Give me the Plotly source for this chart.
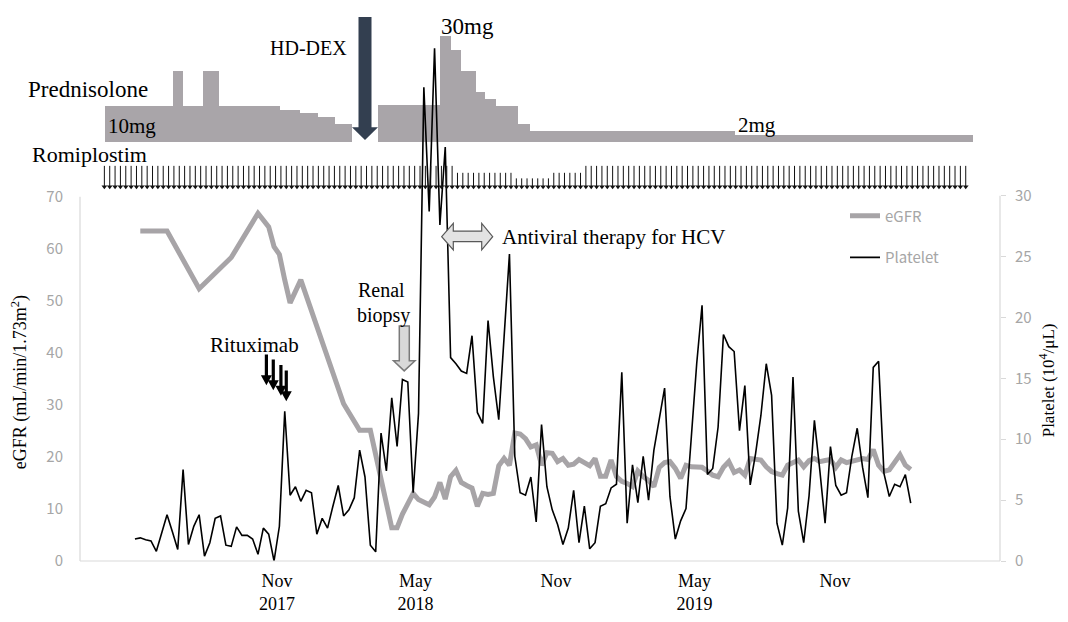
import pandas as pd
import plotly.graph_objects as go

# ------------------------------------------------------------------ data
platelet_start = "2017-04-29"          # weekly measurements
platelet = [
    1.8, 1.9, 1.75, 1.65, 0.8, 2.3, 3.8, 2.4, 0.95, 7.5,
    1.35, 2.85, 3.8, 0.4, 1.5, 3.5, 3.7, 1.3, 1.2, 2.8,
    2.1, 2.1, 1.8, 0.55, 2.7, 2.2, 0.0, 2.85, 12.3, 5.4,
    6.1, 4.9, 5.8, 5.6, 2.2, 3.5, 2.7, 4.5, 6.2, 3.7,
    4.2, 5.2, 9.1, 6.9, 1.3, 0.75, 10.5, 7.4, 13.4, 9.4,
    14.9, 14.7, 5.6, 12.1, 38.9, 28.7, 42.1, 27.6, 34.0, 16.7,
    16.2, 15.6, 15.4, 18.5, 12.2, 11.3, 19.75, 15.1, 11.6, 18.4,
    25.2, 8.6, 5.6, 5.4, 6.9, 3.2, 11.2, 6.1, 4.2, 3.0,
    1.36, 2.7, 5.8, 1.5, 4.5, 1.0, 1.5, 4.5, 4.7, 6.0,
    6.3, 15.5, 3.1, 7.9, 4.8, 8.6, 5.0, 9.1, 11.8, 14.2,
    5.3, 1.8, 3.3, 4.3, 10.2, 16.2, 21.0, 7.1, 7.6, 11.0,
    18.6, 17.6, 17.2, 10.7, 14.4, 6.25, 8.8, 11.95, 16.2, 13.6,
    3.1, 1.3, 4.35, 15.1, 4.1, 1.5, 5.35, 11.55, 7.5, 3.1,
    9.4, 6.2, 5.4, 5.6, 8.6, 10.9, 7.7, 5.2, 15.9, 16.4,
    7.2, 5.3, 6.3, 6.1, 7.1, 4.75,
]
# eGFR on the same weekly grid (None = not measured that week)
egfr = [
    None, 63.4, None, None, None, None, 63.4, None, None, None,
    None, None, 52.3, None, None, None, None, None, 58.3, None,
    None, None, None, 66.8, 65.5, 64.2, 60.4, 58.9, 54.0, 49.6,
    None, 54.0, None, None, None, None, None, None, None, 30.2,
    None, None, 25.1, None, 25.1, None, None, None, 6.4, 6.4,
    9.0, 11.0, 13.0, 11.8, 11.4, 10.8, 12.3, 15.1, 11.9, 16.2,
    17.4, 15.1, 14.5, 14.0, 10.5, 13.0, 12.8, 13.0, 18.3, 19.7,
    18.4, 24.6, 24.4, 23.5, 21.9, 22.3, 18.4, 20.8, 20.7, 19.1,
    19.7, 18.4, 18.6, 19.5, 18.9, 18.3, 19.7, 16.3, 16.3, 19.4,
    16.2, 15.3, 14.9, 14.3, 17.3, 16.2, 15.5, 14.3, 18.0, 18.9,
    19.1, 17.8, 15.9, 18.4, 18.1, 18.1, 18.0, 17.3, 16.5, 16.2,
    18.0, 19.1, 17.0, 17.5, 16.5, 19.7, 19.5, 19.4, 18.1, 17.2,
    16.8, 16.5, 18.4, 19.0, 19.4, 18.1, 19.3, 19.7, 19.1, 19.3,
    19.5, 18.0, 19.4, 18.9, 19.2, 19.5, 19.7, 19.5, 21.4, 18.4,
    17.2, 17.5, 18.8, 20.4, 18.4, 17.6,
]

pred_start = ["2017-03-21", "2017-06-18", "2017-07-01", "2017-07-27", "2017-08-17",
              "2017-11-05", "2017-12-01", "2017-12-25", "2018-01-16",
              "2018-03-13", "2018-06-02", "2018-06-17", "2018-06-30", "2018-07-19",
              "2018-07-31", "2018-08-15", "2018-09-12", "2018-09-28", "2019-06-23"]
pred_end = ["2017-06-18", "2017-07-01", "2017-07-27", "2017-08-17", "2017-11-05",
            "2017-12-01", "2017-12-25", "2018-01-16", "2018-02-07",
            "2018-06-02", "2018-06-17", "2018-06-30", "2018-07-19", "2018-07-31",
            "2018-08-15", "2018-09-12", "2018-09-28", "2019-06-23", "2020-04-29"]
pred_dose = [10, 20, 10, 20, 10, 9, 8, 7, 5,
             10.5, 30, 26, 20, 14, 12, 10, 5, 3, 2]

romi_start = "2017-03-20"              # weekly injections, relative dose level
romi_level = [3] * 66 + [2] * 11 + [1.2] * 7 + [2] * 6 + [3] * 72

rituximab_dates = ["2017-10-18", "2017-10-27", "2017-11-06", "2017-11-13"]

tick_dates = ["2017-11-01", "2018-05-01", "2018-11-01", "2019-05-01", "2019-11-01"]
tick_text = ["Nov<br>2017", "May<br>2018", "Nov", "May<br>2019", "Nov"]

# ------------------------------------------------------------------ layout geometry
# The page has an 8px body margin; coordinates below are page pixels.
OFF = 8
W, H = 1068 - 2 * OFF, 622 - 2 * OFF       # keep the page free of scrollbars
PLOT_L, PLOT_R, PLOT_T, PLOT_B = 80, 1000, 8, 565
ML, MR = PLOT_L - OFF, W - (PLOT_R - OFF)
MT, MB = PLOT_T - OFF, H - (PLOT_B - OFF)
PW, PH = PLOT_R - PLOT_L, PLOT_B - PLOT_T


def fx(p):
    return (p - PLOT_L) / PW


def fy(p):
    return (PLOT_B - p) / PH


REF = pd.Timestamp("2017-11-01")
PX_REF, PX_PER_DAY = 277.1, 0.7643


def px_date(p):
    return (REF + pd.Timedelta(days=(p - PX_REF) / PX_PER_DAY)).strftime("%Y-%m-%d %H:%M:%S")


def date_px(d):
    return PX_REF + PX_PER_DAY * (pd.Timestamp(d) - REF).total_seconds() / 86400


x_range = [px_date(PLOT_L), px_date(PLOT_R)]
egfr_top = PH / (367 / 70)        # 70 at y=198px
plt_top = PH / (368 / 30)         # 30 at y=197px
PRED_ZERO, PRED_PX = 142.5, 3.54
pred_range = [-(PLOT_B - PRED_ZERO) / PRED_PX, (PRED_ZERO - PLOT_T) / PRED_PX]
ROMI_ZERO, ROMI_PX = 188.0, 7.0
romi_range = [-(PLOT_B - ROMI_ZERO) / ROMI_PX, (ROMI_ZERO - PLOT_T) / ROMI_PX]

SERIF = "Liberation Serif"
SANS = "Noto Sans CJK JP"
GRAY_TXT = "#a6a6a6"
AXIS_GRAY = "#d9d9d9"
PRED_COLOR = "#a9a5a9"
EGFR_COLOR = "#a7a4a7"

# ------------------------------------------------------------------ traces
plt_dates = pd.date_range(platelet_start, periods=len(platelet), freq="7D")
ps = pd.to_datetime(pred_start)
pe = pd.to_datetime(pred_end)
widths = [(e - s).total_seconds() * 1000 for s, e in zip(ps, pe)]

fig = go.Figure()
fig.add_trace(go.Bar(x=ps, y=pred_dose, width=widths, offset=0, yaxis="y",
                     marker=dict(color=PRED_COLOR, line=dict(width=0)),
                     showlegend=False, hoverinfo="skip"))
fig.add_trace(go.Scatter(x=plt_dates, y=egfr, name="eGFR", mode="lines", connectgaps=True,
                         line=dict(color=EGFR_COLOR, width=5), yaxis="y2", legendgroup="a"))
fig.add_trace(go.Scatter(x=plt_dates, y=platelet, name="Platelet", mode="lines",
                         line=dict(color="black", width=1.6), yaxis="y3", legendgroup="b"))

romi_dates = pd.date_range(romi_start, periods=len(romi_level), freq="7D")
rx, ry = [], []
for d, lv in zip(romi_dates, romi_level):
    rx += [d, d, None]
    ry += [lv, 0, None]
fig.add_trace(go.Scatter(x=rx, y=ry, mode="lines", line=dict(color="#111111", width=1),
                         yaxis="y4", showlegend=False, hoverinfo="skip"))
fig.add_trace(go.Scatter(x=romi_dates, y=[0] * len(romi_dates), mode="markers",
                         marker=dict(symbol="triangle-down", size=5, color="#111111",
                                     line=dict(width=0)),
                         yaxis="y4", showlegend=False, hoverinfo="skip"))

# ------------------------------------------------------------------ decorations


def path(points):
    return "M " + " L ".join(f"{fx(x):.5f},{fy(y):.5f}" for x, y in points) + " Z"


shapes = [
    # axis lines
    dict(type="line", xref="paper", yref="paper", x0=fx(80), x1=fx(80), y0=fy(198), y1=fy(565),
         line=dict(color=AXIS_GRAY, width=1.2)),
    dict(type="line", xref="paper", yref="paper", x0=fx(1000), x1=fx(1000), y0=fy(197), y1=fy(565),
         line=dict(color=AXIS_GRAY, width=1.2)),
    dict(type="line", xref="paper", yref="paper", x0=fx(80), x1=fx(1000), y0=fy(565), y1=fy(565),
         line=dict(color=AXIS_GRAY, width=1.2)),
    # HD-DEX arrow
    dict(type="path", xref="paper", yref="paper", layer="above",
         path=path([(358.5, 17), (371.5, 17), (371.5, 128), (378, 128), (365, 141), (352, 128), (358.5, 128)]),
         fillcolor="#333f50", line=dict(width=0)),
    # Renal biopsy arrow
    dict(type="path", xref="paper", yref="paper", layer="above",
         path=path([(399.3, 328.3), (409.3, 328.3), (409.3, 363.3), (415, 363.3), (404.2, 373.5),
                    (393.5, 363.3), (399.3, 363.3)]),
         fillcolor="#d9d9d9", line=dict(color="#7a7a7a", width=1.5)),
    # Antiviral therapy double arrow
    dict(type="path", xref="paper", yref="paper", layer="above",
         path=path([(441.7, 238.3), (453.3, 225), (453.3, 232.7), (481.7, 232.7), (481.7, 225),
                    (492.7, 238.3), (481.7, 251.7), (481.7, 243.3), (453.3, 243.3), (453.3, 251.7)]),
         fillcolor="#e3e3e3", line=dict(color="#595959", width=1.2)),
]

# Rituximab arrows (one per infusion date)
ritux_tip_px = [388, 393, 398.5, 404]
RITUX_LEN, HEAD_LEN, HEAD_HALF, SHAFT_HALF = 31, 10, 5.5, 1.6
for d, tip in zip(rituximab_dates, ritux_tip_px):
    cx = date_px(d)
    top, hb = tip - RITUX_LEN, tip - HEAD_LEN
    shapes.append(dict(type="path", xref="paper", yref="paper", layer="above",
                       path=path([(cx - SHAFT_HALF, top), (cx + SHAFT_HALF, top), (cx + SHAFT_HALF, hb),
                                  (cx + HEAD_HALF, hb), (cx, tip), (cx - HEAD_HALF, hb),
                                  (cx - SHAFT_HALF, hb)]),
                       fillcolor="black", line=dict(width=0)))


def txt(s, x, y, size, color="black", family=SERIF, **kw):
    return dict(text=s, x=fx(x), y=fy(y), xref="paper", yref="paper", showarrow=False,
                xanchor="center", yanchor="middle", font=dict(family=family, size=size, color=color), **kw)


annotations = [
    txt("Prednisolone", 88, 90, 23),
    txt("Romiplostim", 89, 156, 22),
    txt("10mg", 132, 127, 21),
    txt("HD-DEX", 308, 48, 20),
    txt("30mg", 467, 27, 23),
    txt("2mg", 757, 126, 21),
    txt("Rituximab", 254, 347, 21),
    txt("Renal", 381, 292, 20),
    txt("biopsy", 383, 318, 20),
    txt("Antiviral therapy for HCV", 613, 239, 21),
    txt("eGFR (mL/min/1.73m<sup>2</sup>)", 20, 385, 18, textangle=-90),
    txt("Platelet (10<sup>4</sup>/μL)", 1047, 383, 17, textangle=-90),
]

fig.update_layout(
    width=W, height=H,
    margin=dict(l=ML, r=MR, t=MT, b=MB, pad=0),
    plot_bgcolor="white", paper_bgcolor="white",
    bargap=0,
    xaxis=dict(type="date", range=x_range, tickvals=tick_dates, ticktext=tick_text,
               tickfont=dict(family=SERIF, size=18, color="black"), showgrid=False,
               zeroline=False, showline=False, ticks="", ticklabelstandoff=7),
    yaxis=dict(range=pred_range, visible=False, showgrid=False, zeroline=False),
    yaxis2=dict(overlaying="y", side="left", range=[0, egfr_top], tickvals=list(range(0, 71, 10)),
                tickfont=dict(family=SANS, size=15, color=GRAY_TXT), showgrid=False,
                zeroline=False, showline=False, ticks="", ticklabelstandoff=16),
    yaxis3=dict(overlaying="y", side="right", range=[0, plt_top], tickvals=list(range(0, 31, 5)),
                tickfont=dict(family=SANS, size=15, color=GRAY_TXT), showgrid=False,
                zeroline=False, showline=False, ticks="outside", ticklen=5, tickcolor=AXIS_GRAY,
                ticklabelstandoff=6),
    yaxis4=dict(overlaying="y", range=romi_range, visible=False, showgrid=False, zeroline=False),
    legend=dict(x=fx(845), y=fy(201), xanchor="left", yanchor="top", bgcolor="rgba(0,0,0,0)",
                font=dict(family=SANS, size=15, color=GRAY_TXT), tracegroupgap=19,
                itemwidth=30),
    shapes=shapes,
    annotations=annotations,
)

fig.write_html("out.html")
